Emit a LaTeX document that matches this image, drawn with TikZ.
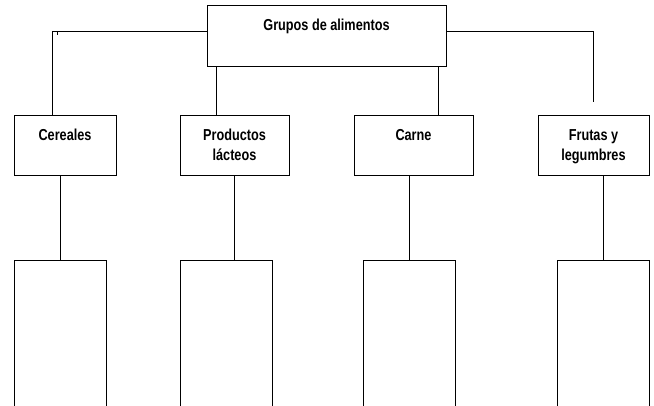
\documentclass[tikz,border=0pt]{standalone}
\usepackage{fontspec}
\setmainfont[FakeStretch=0.8]{Liberation Sans}

\tikzset{
  caja/.style 2 args={draw,minimum width=#1*0.75pt,minimum height=#2*0.75pt,inner sep=0pt},
  rotulo/.style={anchor=north,inner sep=0pt,align=center},
}

\begin{document}
\begin{tikzpicture}[x=0.75pt,y=-0.75pt,line width=0.75pt,
  font=\fontsize{11.9}{15}\selectfont\bfseries]
  \clip (0,0) rectangle (654,406);
  % head box
  \node[caja={239}{61}] (grupos) at (326.5,36.5) {};
  \node[rotulo] (tgrupos) at (326.5,19) {Grupos de alimentos};
  % the four groups
  \foreach \n/\x/\w/\t in {cer/65/102/Cereales,
      prod/234.5/109/{Productos\\lácteos},
      carne/413.5/119/Carne,
      frutas/593.5/111/{Frutas y\\legumbres}} {
    \node[caja={\w}{60}] (\n) at (\x,146) {};
    \node[rotulo] (t\n) at (\x,129) {\t};
  }
  % empty boxes, cut by the bottom edge
  \foreach \n/\x in {1/60,2/226,3/409.5,4/603}
    \node[caja={92}{150}] (hoja\n) at (\x,336) {};
  % branches from the head box
  \coordinate (izq) at (52,32);
  \coordinate (der) at (593,32);
  \coordinate (derfin) at (593,102);
  \coordinate (ramaA) at (216,0);
  \coordinate (ramaB) at (438,0);
  \draw (grupos.west |- izq) -- (izq) -- (izq |- cer.north);
  \draw (izq) ++(5,0) -- ++(0,3);
  \draw (grupos.east |- der) -- (der) -- (derfin);
  \draw (grupos.south -| ramaA) -- (ramaA |- prod.north);
  \draw (grupos.south -| ramaB) -- (ramaB |- carne.north);
  % drops to the empty boxes
  \draw (cer.south -| hoja1.north) -- (hoja1.north);
  \draw (prod.south) -- (prod.south |- hoja2.north);
  \draw (carne.south -| hoja3.north) -- (hoja3.north);
  \draw (frutas.south -| hoja4.north) -- (hoja4.north);
\end{tikzpicture}
\end{document}
